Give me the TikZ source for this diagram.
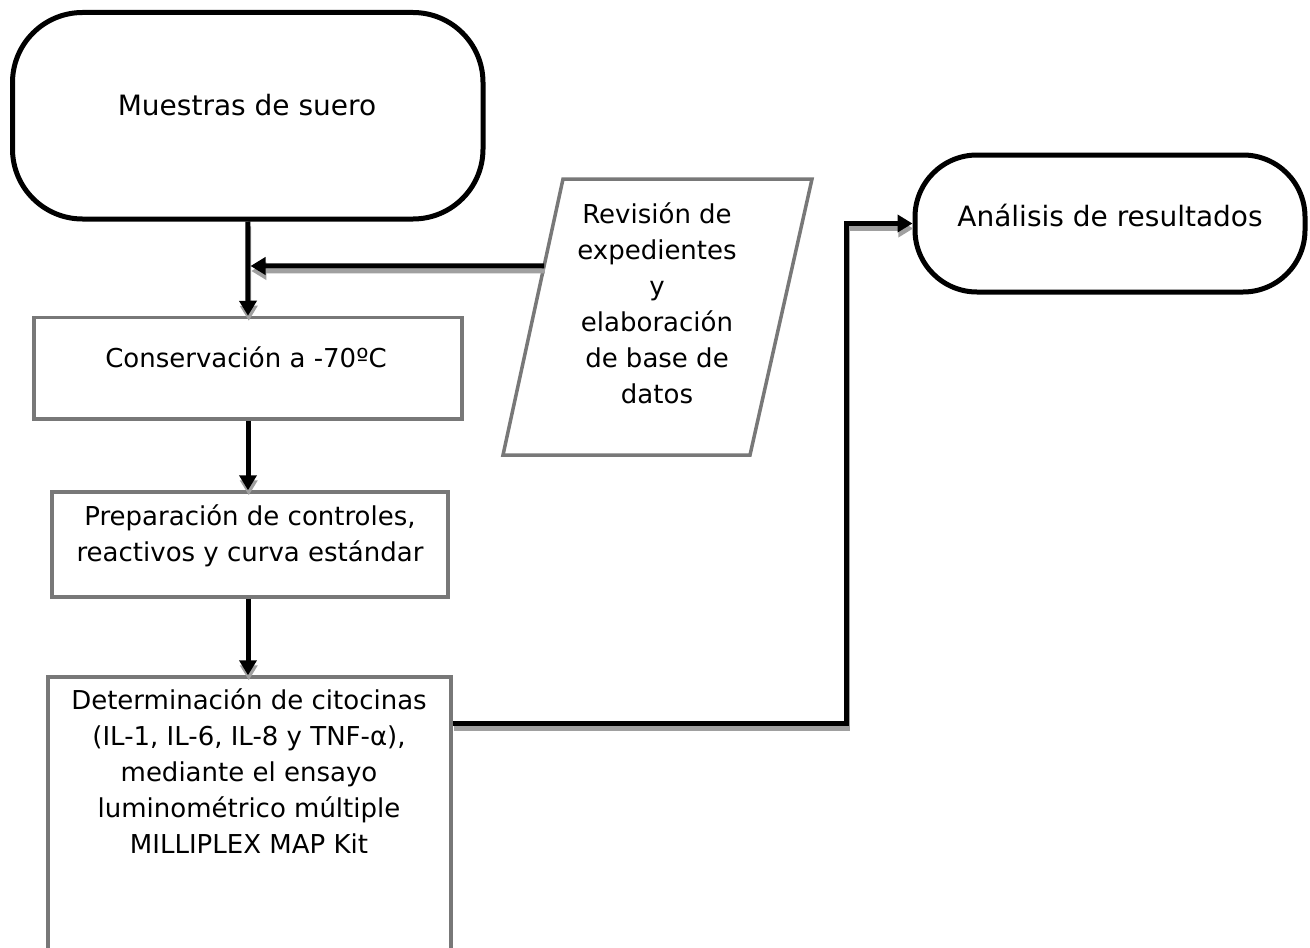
\documentclass[tikz,border=0pt]{standalone}
\usepackage{fontspec}
\setmainfont{DejaVu Sans}
\usetikzlibrary{arrows.meta,calc}
\definecolor{boxgray}{RGB}{120,120,120}
\definecolor{shade}{RGB}{160,160,160}
% a connector with a soft grey drop shadow beneath it
\newcommand\flowline[1]{%
  \begin{scope}[transform canvas={xshift=0.4pt,yshift=-2.5pt}]
    \draw[conn,draw=shade] #1;
  \end{scope}
  \draw[conn] #1;}
\begin{document}
\begin{tikzpicture}[x=0.5pt,y=-0.5pt,
  terminal/.style={draw=black,line width=2.5pt,rounded corners=#1,inner sep=0pt,fill=white},
  stepbox/.style={draw=boxgray,line width=1.75pt,inner sep=0pt,fill=white},
  txt/.style={font=\fontsize{13}{18}\selectfont,inner sep=0pt},
  bigtxt/.style={font=\fontsize{14}{18}\selectfont,inner sep=0pt},
  conn/.style={line width=2.5pt,-{Triangle[length=7.5pt,width=8.5pt]}}]
\path[use as bounding box] (0,0) rectangle (1310,947);
\begin{scope}
\clip (0,0) rectangle (1310,947);
% terminals and process boxes
\node[terminal=35pt,minimum width=235.25pt,minimum height=103.25pt] (T1) at (247.75,115.75) {};
\node[terminal=31pt,minimum width=195pt,minimum height=68.5pt] (T2) at (1110,223.5) {};
\node[stepbox,minimum width=214pt,minimum height=50.75pt] (R1) at (248,368.25) {};
\node[stepbox,minimum width=198pt,minimum height=52.5pt] (R2) at (250,544.5) {};
\node[stepbox,minimum width=201.5pt,minimum height=170pt] (R3) at (249.5,847) {};
% data (parallelogram) box
\coordinate (pBL) at (503,455);
\coordinate (pBR) at (750,455);
\coordinate (pTR) at (812,179);
\coordinate (pTL) at (563,179);
\draw[stepbox] (pBL) -- (pBR) -- (pTR) -- (pTL) -- cycle;
% labels
\node[bigtxt,anchor=base] (tT1) at (247,116) {Muestras de suero};
\node[bigtxt,anchor=base] (tT2) at (1110,226) {Análisis de resultados};
\node[txt,anchor=base] (tR1) at (246,367) {Conservación a -70ºC};
\node[txt,anchor=base] (tR2) at (250,525) {\begin{tabular}[t]{@{}c@{}}Preparación de controles,\\ reactivos y curva estándar\end{tabular}};
\node[txt,anchor=base] (tR3) at (249,709) {\begin{tabular}[t]{@{}c@{}}Determinación de citocinas\\ (IL-1, IL-6, IL-8 y TNF-α),\\ mediante el ensayo\\ luminométrico múltiple\\ MILLIPLEX MAP Kit\end{tabular}};
\node[txt,anchor=base] (tP) at (657,223) {\begin{tabular}[t]{@{}c@{}}Revisión de\\ expedientes\\ y\\ elaboración\\ de base de\\ datos\end{tabular}};
% connectors
\coordinate (pL) at ($(pBL)!0.685!(pTL)$);
\coordinate (J) at (250.5,266);
\flowline{(T1.south) -- (R1.north)}
\flowline{(pL) -- (J)}
\flowline{(R1.south) -- (R1.south |- R2.north)}
\flowline{(R2.south -| R1.south) -- (R1.south |- R3.north)}
\flowline{($(R3.north east)+(0,48)$) -- ++(394,0) |- (T2.west)}
\end{scope}
\end{tikzpicture}
\end{document}
